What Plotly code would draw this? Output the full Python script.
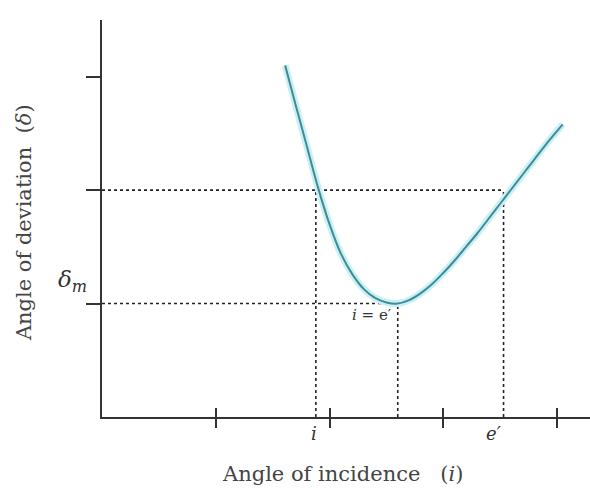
import plotly.graph_objects as go

# curve of deviation vs incidence (axis units = tick spacing)
incidence = [1.61, 1.70, 1.80, 1.90, 2.00, 2.10, 2.20, 2.30, 2.40, 2.50, 2.60,
             2.70, 2.80, 2.90, 3.00, 3.10, 3.20, 3.30, 3.40, 3.50, 3.60, 3.70, 3.80, 3.90, 4.05]
deviation = [3.10, 2.76, 2.39, 2.02, 1.70, 1.44, 1.26, 1.13, 1.05, 1.01, 1.00,
             1.03, 1.09, 1.17, 1.27, 1.38, 1.50, 1.62, 1.75, 1.88, 2.01, 2.14, 2.27, 2.40, 2.58]

# marked values
i_val = 1.88
e_val = 3.53
i_min = 2.60
delta = 2.0
delta_m = 1.0

x_ticks = [1, 2, 3, 4]
y_ticks = [1, 2, 3]

serif = "DejaVu Serif, Liberation Serif, serif"
dot = dict(color="#222", width=1.6, dash="dot")

fig = go.Figure()

# dotted guide lines
fig.add_trace(go.Scatter(x=[0, e_val], y=[delta, delta], mode="lines", line=dot))
fig.add_trace(go.Scatter(x=[0, i_min], y=[delta_m, delta_m], mode="lines", line=dot))
fig.add_trace(go.Scatter(x=[i_val, i_val], y=[0, delta], mode="lines", line=dot))
fig.add_trace(go.Scatter(x=[i_min, i_min], y=[0, delta_m], mode="lines", line=dot))
fig.add_trace(go.Scatter(x=[e_val, e_val], y=[0, delta], mode="lines", line=dot))

# curve: light halo + teal line
fig.add_trace(go.Scatter(x=incidence, y=deviation, mode="lines",
                         line=dict(color="#c8f0f6", width=7, shape="spline")))
fig.add_trace(go.Scatter(x=incidence, y=deviation, mode="lines",
                         line=dict(color="#418c92", width=2, shape="spline")))

# dummy trace on the second x axis so its ticks are drawn
fig.add_trace(go.Scatter(x=[0], y=[0], xaxis="x2", mode="markers",
                         marker=dict(opacity=0), hoverinfo="skip"))

fig.update_layout(
    width=590, height=500,
    margin=dict(l=102, r=0, t=20, b=83),
    paper_bgcolor="white", plot_bgcolor="white",
    showlegend=False,
    font=dict(family=serif, color="#333"),
    xaxis=dict(range=[0, 4.29], showgrid=False, zeroline=False,
               showline=True, linecolor="#333", linewidth=2,
               ticks="outside", ticklen=9, tickwidth=2, tickcolor="#333",
               tickvals=x_ticks, showticklabels=False),
    xaxis2=dict(range=[0, 4.29], overlaying="x", side="bottom", showgrid=False,
                zeroline=False, showline=False, ticks="inside", ticklen=9,
                tickwidth=2, tickcolor="#333", tickvals=x_ticks,
                showticklabels=False),
    yaxis=dict(range=[0, 3.5], showgrid=False, zeroline=False,
               showline=True, linecolor="#333", linewidth=2,
               ticks="outside", ticklen=14, tickwidth=2, tickcolor="#333",
               tickvals=y_ticks, showticklabels=False),
)

# labels placed in paper coordinates (plot area: 488 x 397 px)
labels = [
    dict(x=0.435, y=-0.072, text="<i>i</i>", size=18),
    dict(x=0.822, y=-0.074, text="<i>e′</i>", size=18),
    dict(x=0.553, y=0.230, text="<i>i</i> = e′", size=15),
    dict(x=-0.094, y=0.300, text="<i>δ</i><sub><i>m</i></sub>", size=23),
]
for lb in labels:
    fig.add_annotation(x=lb["x"], y=lb["y"], xref="paper", yref="paper",
                       text=lb["text"], showarrow=False,
                       font=dict(family=serif, size=lb["size"], color="#333"))

fig.add_annotation(x=0.494, y=-0.179, xref="paper", yref="paper",
                   text="Angle of incidence   (<i>i</i>)", showarrow=False,
                   font=dict(family=serif, size=21, color="#444"))
fig.add_annotation(x=-0.188, y=0.489, xref="paper", yref="paper",
                   text="Angle of deviation  (<i>δ</i>)", textangle=-90,
                   showarrow=False, font=dict(family=serif, size=21, color="#444"))

fig.write_html("out.html", config={"displayModeBar": False},
               post_script="document.body.style.margin='0';")
